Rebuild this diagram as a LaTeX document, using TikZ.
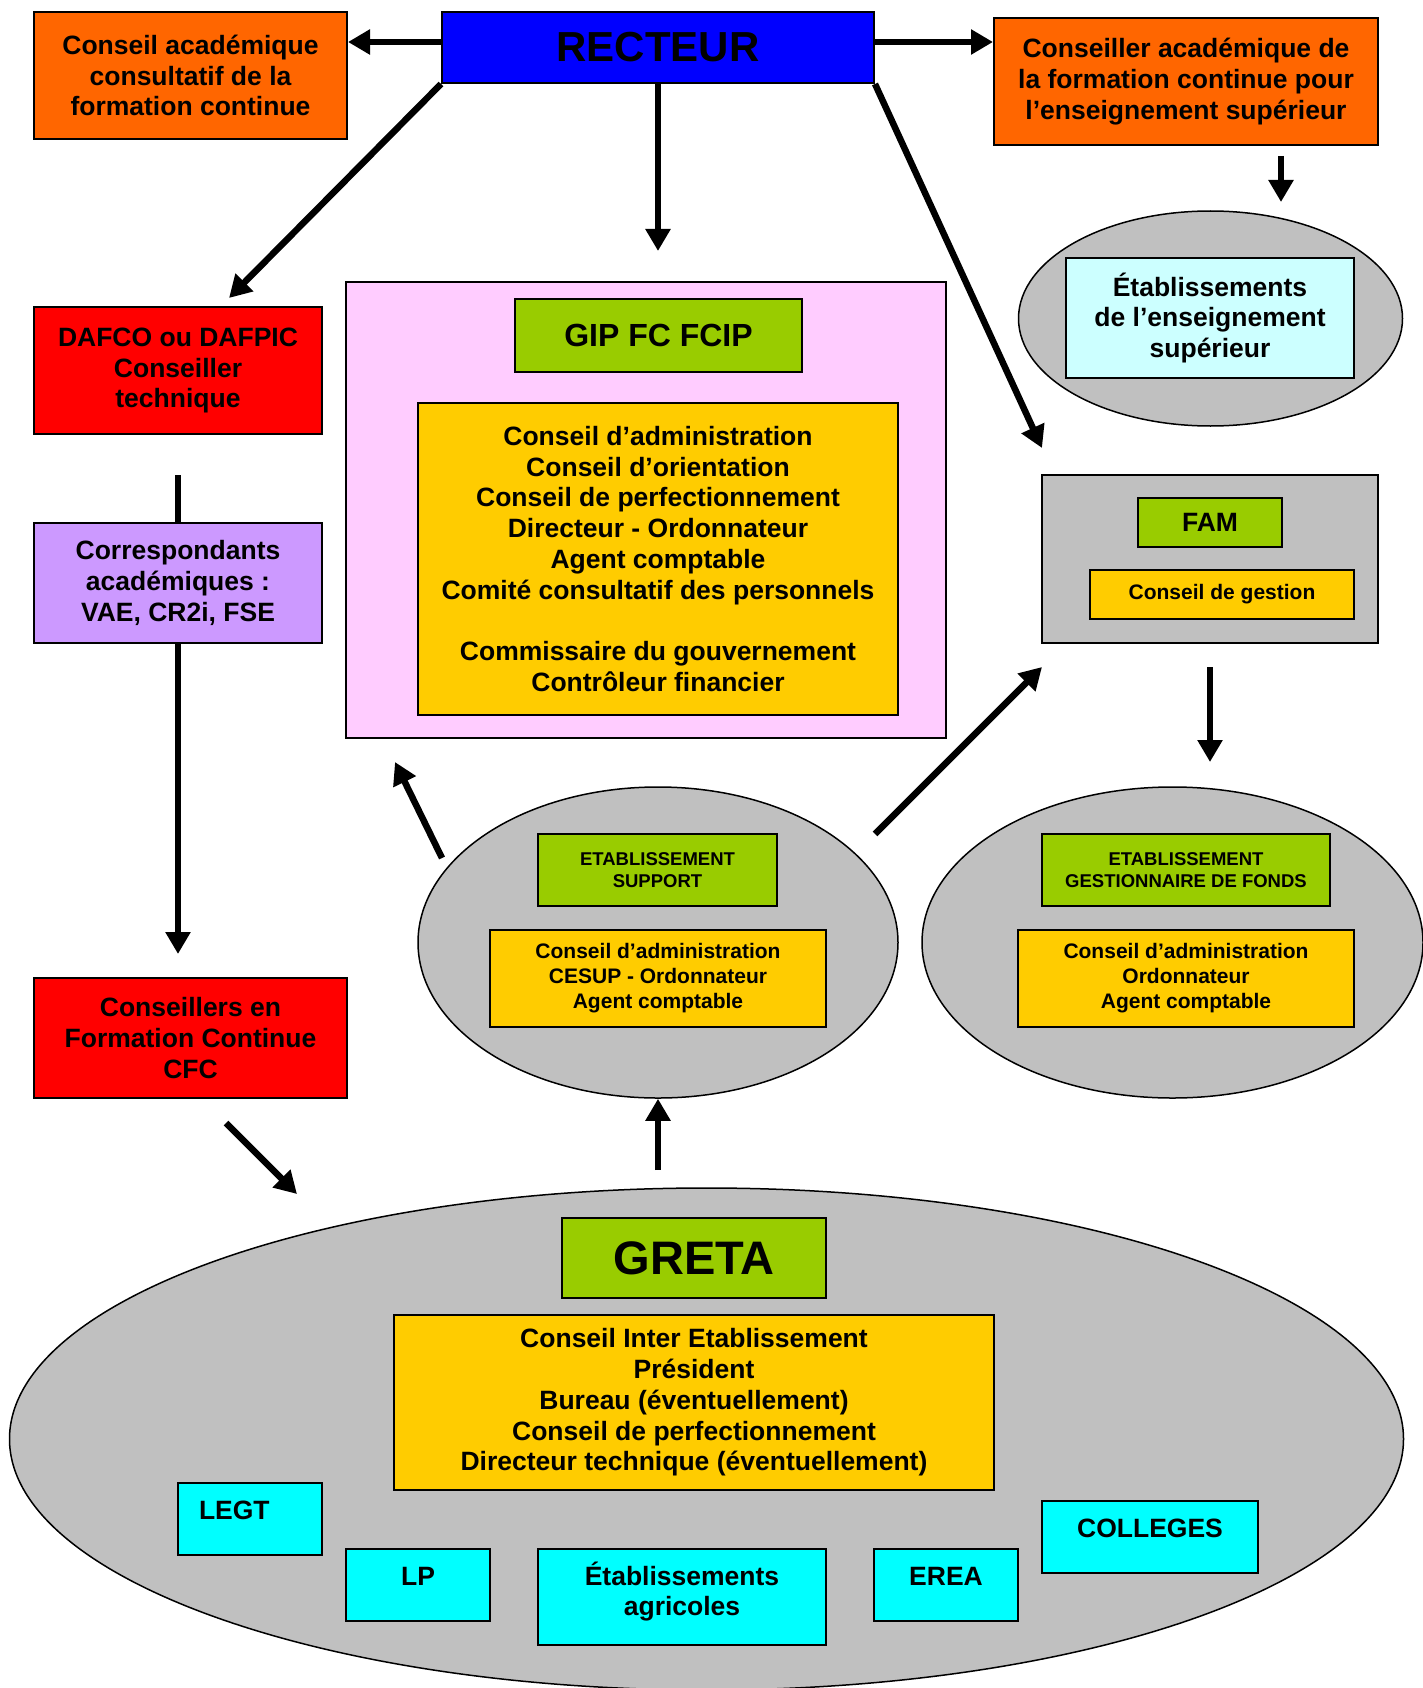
\documentclass[tikz,border=0pt]{standalone}
\usepackage{fontspec}
\setmainfont{Liberation Sans}
\usepackage{tikz}
\usetikzlibrary{arrows.meta,positioning,shapes.geometric}
\definecolor{rectblue}{RGB}{0,0,255}
\definecolor{fcorange}{RGB}{255,102,0}
\definecolor{alertred}{RGB}{255,0,0}
\definecolor{lilac}{RGB}{204,153,255}
\definecolor{softpink}{RGB}{255,204,255}
\definecolor{leafgreen}{RGB}{153,204,0}
\definecolor{gold}{RGB}{255,204,0}
\definecolor{silvergray}{RGB}{192,192,192}
\definecolor{palecyan}{RGB}{204,255,255}
\definecolor{brightcyan}{RGB}{0,255,255}
\newcommand{\txtmain}{\fontsize{26.5}{30.8}\selectfont}
\newcommand{\txtsmall}{\fontsize{21}{25}\selectfont}
\newcommand{\txtcaps}{\fontsize{18.5}{21.5}\selectfont}

\begin{document}
\begin{tikzpicture}[
  x=1pt, y=-1pt,
  box/.style={draw=black, line width=2pt, inner sep=0pt, align=center, font=\bfseries\txtmain},
  tile/.style={box, fill=brightcyan, anchor=north, text height=36pt},
  cluster/.style={draw=black, line width=1.5pt, ellipse, fill=silvergray, inner sep=0pt},
  arrow/.style={-{Triangle[length=22pt,width=24pt]}, line width=6.5pt},
  link/.style={line width=6.5pt}
]
\useasboundingbox (0,0) rectangle (1423,1688);

% Top row
\node[box, fill=fcorange, minimum width=313pt, minimum height=127pt] (cacfc) at (190.5,75.5)
  {Conseil académique\\consultatif de la\\formation continue};
\node[box, fill=rectblue, minimum width=432pt, minimum height=71pt, font=\bfseries\fontsize{42}{48}\selectfont] (recteur) at (658,47.5) {RECTEUR};
\node[box, fill=fcorange, minimum width=384pt, minimum height=127pt] (cafcsup) at (1186,81.5)
  {Conseiller académique de\\la formation continue pour\\l’enseignement supérieur};

% Enseignement superieur
\node[cluster, minimum width=384pt, minimum height=215pt] (supring) at (1210.5,318.5) {};
\node[box, fill=palecyan, minimum width=288pt, minimum height=120pt] (etabsup) at (1210,318)
  {Établissements\\de l’enseignement\\supérieur};

% Left column
\node[box, fill=alertred, minimum width=288pt, minimum height=127pt] (dafco) at (178,370.5)
  {DAFCO ou DAFPIC\\Conseiller\\technique};
\node[box, fill=lilac, minimum width=288pt, minimum height=120pt] (corresp) at (178,583)
  {Correspondants\\académiques :\\VAE, CR2i, FSE};
\node[box, fill=alertred, minimum width=313pt, minimum height=120pt] (cfc) at (190.5,1038)
  {Conseillers en\\Formation Continue\\CFC};

% GIP
\node[box, fill=softpink, minimum width=600pt, minimum height=456pt] (gipframe) at (646,510) {};
\node[box, fill=leafgreen, minimum width=287pt, minimum height=73pt, font=\bfseries\fontsize{32}{38}\selectfont] (gip) at (658.5,335.5) {GIP FC FCIP};
\node[box, fill=gold, minimum width=480pt, minimum height=312pt] (gipconseil) at (658,559)
  {Conseil d’administration\\Conseil d’orientation\\Conseil de perfectionnement\\Directeur - Ordonnateur\\Agent comptable\\Comité consultatif des personnels\\[30.8pt]Commissaire du gouvernement\\Contrôleur financier};

% FAM
\node[box, fill=silvergray, minimum width=336pt, minimum height=168pt] (famframe) at (1210,559) {};
\node[box, fill=leafgreen, minimum width=144pt, minimum height=49pt] (fam) at (1210,522.5) {FAM};
\node[box, fill=gold, minimum width=264pt, minimum height=49pt, font=\bfseries\txtsmall] (gestion) at (1222,594.5) {Conseil de gestion};

% Etablissement support
\node[cluster, minimum width=480pt, minimum height=311pt] (support) at (658,942.5) {};
\node[box, fill=leafgreen, minimum width=239pt, minimum height=72pt, font=\bfseries\txtcaps] (etabsupport) at (657.5,870)
  {ETABLISSEMENT\\SUPPORT};
\node[box, fill=gold, minimum width=336pt, minimum height=97pt, font=\bfseries\txtsmall] (cesup) at (658,978.5)
  {Conseil d’administration\\CESUP - Ordonnateur\\Agent comptable};

% Etablissement gestionnaire
\node[cluster, minimum width=501pt, minimum height=311pt] (gestring) at (1172.5,942.5) {};
\node[box, fill=leafgreen, minimum width=288pt, minimum height=72pt, font=\bfseries\txtcaps] (etabgest) at (1186,870)
  {ETABLISSEMENT\\GESTIONNAIRE DE FONDS};
\node[box, fill=gold, minimum width=336pt, minimum height=97pt, font=\bfseries\txtsmall] (gestconseil) at (1186,978.5)
  {Conseil d’administration\\Ordonnateur\\Agent comptable};

% GRETA
\node[cluster, minimum width=1394pt, minimum height=502pt] (gretaring) at (706.5,1439) {};
\node[box, fill=leafgreen, minimum width=264pt, minimum height=80pt, font=\bfseries\fontsize{47}{54}\selectfont] (greta) at (694,1258) {GRETA};
\node[box, fill=gold, minimum width=600pt, minimum height=175pt] (gretaconseil) at (694,1402.5)
  {Conseil Inter Etablissement\\Président\\Bureau (éventuellement)\\Conseil de perfectionnement\\Directeur technique (éventuellement)};
\node[tile, minimum width=144pt, text depth=36pt, text width=102pt, align=left] (legt) at (250,1482) {LEGT};
\node[tile, minimum width=144pt, text depth=36pt] (lp) at (418,1548) {LP};
\node[tile, minimum width=288pt, text depth=60pt, text width=260pt] (agri) at (682,1548) {Établissements\\agricoles};
\node[tile, minimum width=144pt, text depth=36pt] (erea) at (946,1548) {EREA};
\node[tile, minimum width=216pt, text depth=36pt] (colleges) at (1150,1500) {COLLEGES};

% Free arrow ends
\coordinate (rwest) at ([yshift=5.5pt]recteur.west);
\coordinate (reast) at ([yshift=5.5pt]recteur.east);
\coordinate (dafcotip) at (229,298);
\coordinate (giptip) at (658,251);
\coordinate (famtip) at (1042,448);
\coordinate (suptail) at (1281,156);
\coordinate (suptip) at (1281,202);
\coordinate (corrtop) at (178,475);
\coordinate (cfctip) at (178,954);
\coordinate (cfctail) at (226,1123);
\coordinate (gretatip) at (297,1194);
\coordinate (gretatail) at (658,1170);
\coordinate (piptail) at (442,858);
\coordinate (piptip) at (395,762);
\coordinate (famtail) at (875,834);
\coordinate (famtip2) at (1042,667);
\coordinate (gesttail) at (1210,667);
\coordinate (gesttip) at (1210,762);

% Arrows
\draw[arrow] (rwest) -- (rwest -| cacfc.east);
\draw[arrow] (reast) -- (reast -| cafcsup.west);
\draw[arrow] (recteur.south west) -- (dafcotip);
\draw[arrow] (recteur.south) -- (giptip);
\draw[arrow] (recteur.south east) -- (famtip);
\draw[arrow] (suptail) -- (suptip);
\draw[link] (corrtop) -- (corresp.north);
\draw[arrow] (corresp.south) -- (cfctip);
\draw[arrow] (cfctail) -- (gretatip);
\draw[arrow] (gretatail) -- (support.south);
\draw[arrow] (piptail) -- (piptip);
\draw[arrow] (famtail) -- (famtip2);
\draw[arrow] (gesttail) -- (gesttip);

\end{tikzpicture}
\end{document}
